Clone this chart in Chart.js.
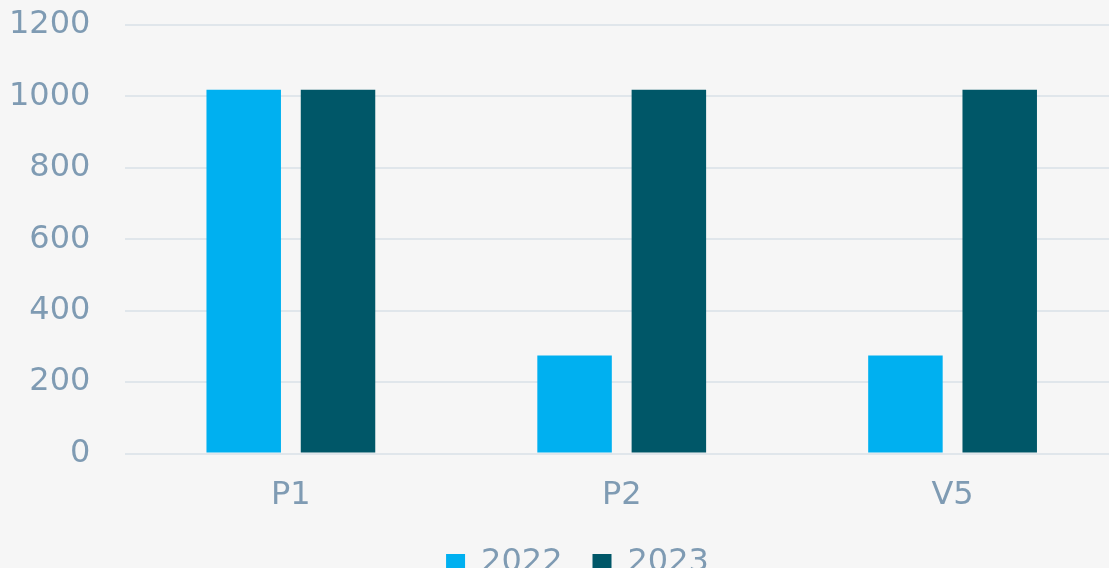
<!DOCTYPE html>
<html>
<head>
<meta charset="utf-8">
<script src="https://cdn.jsdelivr.net/npm/chart.js@4"></script>
<style>
  html, body { margin: 0; padding: 0; background: #f6f6f6; overflow: hidden; }
  #wrap { width: 1118px; height: 589px; }
</style>
</head>
<body>
<div id="wrap"><canvas id="myBarChart"></canvas></div>
<script>
// ------------------ data -------------------
var categories = ['P1', 'P2', 'V5'];
var values2022 = [1019, 275, 275];
var values2023 = [1019, 1019, 1019];
var yTicks = [0, 200, 400, 600, 800, 1000, 1200];

var tickColor = '#7f9bb3';
var gridColor = '#e0e6eb';

var barData = {
  labels: categories,
  datasets: [{
    label: '2022',
    data: values2022,
    backgroundColor: '#00b0f0',
    categoryPercentage: 0.57,
    barPercentage: 0.79
  }, {
    label: '2023',
    data: values2023,
    backgroundColor: '#005768',
    categoryPercentage: 0.57,
    barPercentage: 0.79
  }]
};

var barOptions = {
  responsive: true,
  maintainAspectRatio: false,
  animation: false,
  layout: { padding: { top: 25, left: 9 } },
  scales: {
    x: {
      grid: { display: false, drawTicks: false },
      border: { display: false },
      ticks: { color: tickColor, font: { size: 32 }, padding: 23 },
      // pull the legend up closer to the category labels
      afterFit: function (axis) { axis.height -= 21; }
    },
    y: {
      min: yTicks[0],
      max: yTicks[yTicks.length - 1],
      afterBuildTicks: function (axis) {
        axis.ticks = yTicks.map(function (v) { return { value: v }; });
      },
      // tick marks kept invisible, only used as the gap between labels and plot
      grid: { color: gridColor, lineWidth: 2, drawTicks: true, tickLength: 35, tickColor: 'rgba(0,0,0,0)' },
      border: { display: false },
      ticks: {
        color: tickColor,
        font: { size: 32 },
        padding: 0,
        callback: function (v) { return String(v); }
      }
    }
  },
  plugins: {
    legend: {
      position: 'bottom',
      labels: {
        color: tickColor,
        font: { size: 32 },
        boxWidth: 19,
        boxHeight: 18,
        padding: 30
      }
    },
    tooltip: { enabled: false }
  }
};

// legend sits a bit right of centre in the original
var legendShift = {
  id: 'legendShift',
  afterLayout: function (chart) {
    chart.legend.left += 14;
    chart.legend.right += 14;
  }
};

Chart.defaults.font.family = '"DejaVu Sans", sans-serif';

var barCtx = document.getElementById('myBarChart').getContext('2d');
var myBarChart = new Chart(barCtx, {
  type: 'bar',
  data: barData,
  options: barOptions,
  plugins: [legendShift]
});
</script>
</body>
</html>
